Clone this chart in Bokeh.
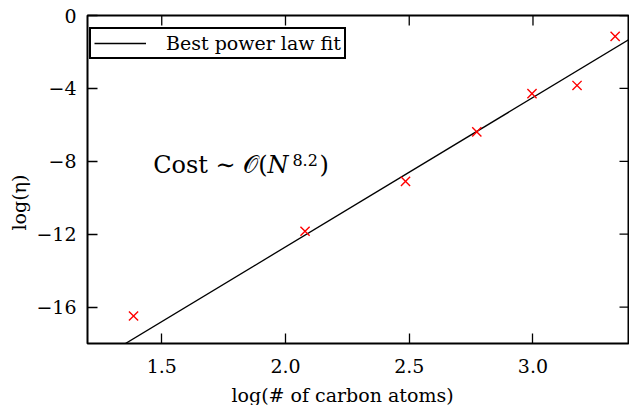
import numpy as np
from bokeh.plotting import figure
from bokeh.models import (ColumnDataSource, FixedTicker, Label, Title,
                          Range1d, Legend, LegendItem)
from bokeh.embed import file_html
from bokeh.resources import INLINE

# ---- data ----
log_carbon = [1.386, 2.079, 2.485, 2.773, 2.996, 3.178, 3.332]
log_eta = [-16.49, -11.84, -9.10, -6.39, -4.29, -3.84, -1.15]
fit_slope = 8.2
fit_intercept = -29.1
x_ticks = [1.5, 2.0, 2.5, 3.0]
x_tick_labels = ["1.5", "2.0", "2.5", "3.0"]
y_ticks = [0, -4, -8, -12, -16]
y_tick_labels = ["0", "\u22124", "\u22128", "\u221212", "\u221216"]
x_title = "log(# of carbon atoms)"
y_title = "log(\u03b7)"
legend_text = "Best power law fit"

FONT = "DejaVu Serif"
x_lo, x_hi = 1.2, 3.39
y_lo, y_hi = -18, 0
FRAME_W, FRAME_H = 542, 328
TICK_LEN = 10

p = figure(frame_width=FRAME_W, frame_height=FRAME_H, output_backend="svg",
           toolbar_location=None,
           x_range=Range1d(x_lo, x_hi), y_range=Range1d(y_lo, y_hi),
           min_border_left=87, min_border_right=0, min_border_top=15,
           min_border_bottom=0)
p.background_fill_color = "white"
p.border_fill_color = "white"
p.grid.visible = False
p.outline_line_color = "black"
p.outline_line_width = 2
p.outline_line_alpha = 1


def style_axis(ax, ticks, labels):
    ax.ticker = FixedTicker(ticks=ticks)
    ax.major_label_overrides = {t: l for t, l in zip(ticks, labels)}
    ax.major_tick_in = TICK_LEN
    ax.major_tick_out = 0
    ax.minor_tick_in = 0
    ax.minor_tick_out = 0
    ax.major_tick_line_color = "black"
    ax.major_tick_line_width = 1.3
    ax.axis_line_color = None
    ax.major_label_text_font = FONT
    ax.major_label_text_color = "black"
    ax.major_label_text_font_size = "19px"


style_axis(p.xaxis[0], x_ticks, x_tick_labels)
p.xaxis[0].major_label_standoff = 15
style_axis(p.yaxis[0], y_ticks, y_tick_labels)
p.yaxis[0].major_label_standoff = 11

# mirrored ticks on top and right edges of the frame
dy_tick = TICK_LEN * (y_hi - y_lo) / FRAME_H
dx_tick = TICK_LEN * (x_hi - x_lo) / FRAME_W
p.segment(x0=x_ticks, y0=[y_hi] * len(x_ticks), x1=x_ticks,
          y1=[y_hi - dy_tick] * len(x_ticks), line_color="black",
          line_width=1.3)
p.segment(x0=[x_hi] * len(y_ticks), y0=y_ticks,
          x1=[x_hi - dx_tick] * len(y_ticks), y1=y_ticks,
          line_color="black", line_width=1.3)

# fit line over the visible x range
fit_x = np.array([x_lo, x_hi])
fit_y = fit_slope * fit_x + fit_intercept
line_r = p.line(fit_x, fit_y, line_color="black", line_width=1.3)

src = ColumnDataSource(dict(x=log_carbon, y=log_eta))
p.scatter("x", "y", source=src, marker="x", size=13, line_color="#ff0000",
          line_width=1.4)

legend = Legend(items=[LegendItem(label=legend_text, renderers=[line_r])],
                location=(2, 284))
legend.label_text_font = FONT
legend.label_text_font_size = "19px"
legend.label_text_color = "black"
legend.border_line_color = "black"
legend.border_line_width = 2
legend.border_line_alpha = 1
legend.background_fill_color = "white"
legend.background_fill_alpha = 1
legend.padding = 3
legend.glyph_width = 52
legend.label_standoff = 20
legend.label_height = 18
legend.glyph_height = 18
legend.spacing = 0
p.add_layout(legend)

# axis titles (as side titles so that they can be offset like the reference)
xt = Title(text=x_title, align="left", offset=144, standoff=12,
           text_font=FONT, text_font_size="19px", text_font_style="normal",
           text_color="black")
p.add_layout(xt, "below")
yt = Title(text=y_title, align="left", offset=113, standoff=7,
           text_font=FONT, text_font_size="19px", text_font_style="normal",
           text_color="black")
p.add_layout(yt, "left")

# annotation: Cost ~ O(N^8.2)
p.add_layout(Label(x=1.4655, y=-8.2, text="Cost \u223c \U0001D4AA(",
                   text_font=FONT, text_font_size="24px",
                   text_baseline="alphabetic", text_color="black"))
p.add_layout(Label(x=1.927, y=-8.2, text="N", text_font=FONT,
                   text_font_size="24px", text_font_style="italic",
                   text_baseline="alphabetic", text_color="black"))
p.add_layout(Label(x=2.028, y=-7.92, text="8.2", text_font=FONT,
                   text_font_size="16px", text_baseline="alphabetic",
                   text_color="black"))
p.add_layout(Label(x=2.137, y=-8.2, text=")", text_font=FONT,
                   text_font_size="24px", text_baseline="alphabetic",
                   text_color="black"))

open("out.html", "w").write(file_html(p, INLINE))
